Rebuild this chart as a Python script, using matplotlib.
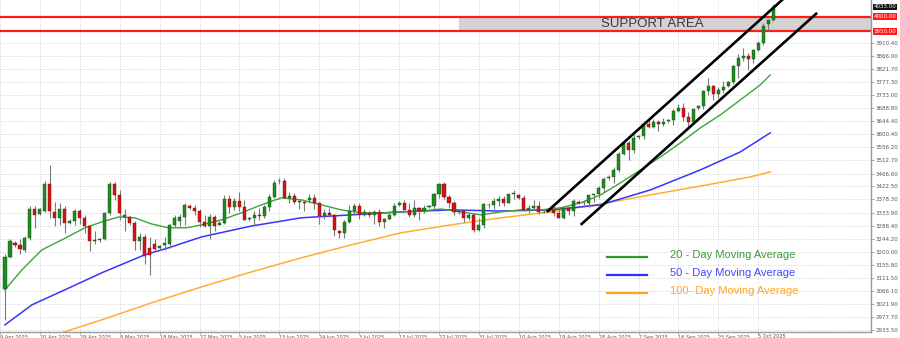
import matplotlib
matplotlib.use("Agg")
import matplotlib.pyplot as plt
from matplotlib.patches import Rectangle
from matplotlib.lines import Line2D
import numpy as np

# ---------------- data (daily XAUUSD candles, incl. Sunday bars) ----------------
opens = [3075, 3184, 3232, 3225, 3207, 3247, 3345, 3330, 3340, 3432,
         3335, 3315, 3345, 3300, 3305, 3340, 3315, 3288, 3238, 3242,
         3244, 3332, 3430, 3395, 3320, 3318, 3300, 3236, 3250, 3215,
         3228, 3212, 3222, 3228, 3290, 3305, 3318, 3356, 3350, 3340,
         3302, 3288, 3318, 3292, 3300, 3381, 3353, 3374, 3353, 3312,
         3316, 3325, 3322, 3354, 3386, 3440, 3440, 3385, 3389, 3369,
         3369, 3375, 3385, 3368, 3323, 3333, 3327, 3270, 3265, 3303,
         3338, 3357, 3326, 3334, 3325, 3336, 3301, 3313, 3324, 3360,
         3365, 3343, 3324, 3348, 3339, 3352, 3356, 3397, 3431, 3387,
         3368, 3335, 3338, 3314, 3326, 3275, 3290, 3360, 3358, 3373,
         3381, 3368, 3397, 3392, 3385, 3342, 3348, 3356, 3335, 3338,
         3342, 3332, 3315, 3348, 3339, 3370, 3368, 3365, 3393, 3397,
         3416, 3450, 3455, 3477, 3533, 3572, 3545, 3590, 3594, 3636,
         3626, 3641, 3634, 3645, 3648, 3679, 3690, 3660, 3643, 3688,
         3695, 3746, 3763, 3736, 3749, 3765, 3778, 3833, 3858, 3866,
         3857, 3887, 3912, 3975, 3990]
highs = [3192, 3245, 3238, 3245, 3255, 3357, 3357, 3350, 3440, 3496,
         3370, 3367, 3355, 3312, 3345, 3345, 3325, 3290, 3270, 3248,
         3335, 3437, 3438, 3410, 3345, 3322, 3305, 3265, 3262, 3250,
         3245, 3225, 3250, 3295, 3325, 3330, 3365, 3362, 3358, 3345,
         3325, 3330, 3325, 3305, 3392, 3392, 3385, 3403, 3375, 3320,
         3340, 3349, 3360, 3398, 3446, 3451, 3452, 3403, 3399, 3375,
         3373, 3397, 3398, 3369, 3347, 3350, 3329, 3275, 3308, 3358,
         3365, 3366, 3345, 3340, 3343, 3345, 3317, 3331, 3368, 3372,
         3375, 3366, 3377, 3352, 3361, 3360, 3402, 3433, 3439, 3394,
         3373, 3342, 3345, 3334, 3334, 3315, 3365, 3365, 3385, 3390,
         3391, 3398, 3409, 3398, 3392, 3358, 3375, 3374, 3345, 3345,
         3358, 3345, 3350, 3351, 3379, 3375, 3376, 3394, 3398, 3423,
         3454, 3462, 3490, 3540, 3578, 3578, 3600, 3598, 3646, 3655,
         3652, 3650, 3655, 3652, 3685, 3703, 3707, 3675, 3687, 3700,
         3749, 3791, 3768, 3761, 3782, 3782, 3835, 3872, 3895, 3875,
         3889, 3918, 3977, 3992, 4042]
lows = [2970, 3180, 3218, 3193, 3200, 3240, 3283, 3326, 3335, 3315,
        3287, 3290, 3265, 3295, 3290, 3295, 3265, 3202, 3228, 3235,
        3240, 3325, 3375, 3310, 3270, 3290, 3207, 3208, 3160, 3121,
        3205, 3208, 3205, 3215, 3285, 3287, 3290, 3345, 3325, 3285,
        3285, 3245, 3271, 3290, 3296, 3333, 3343, 3338, 3307, 3305,
        3293, 3310, 3316, 3338, 3383, 3430, 3382, 3366, 3362, 3346,
        3340, 3368, 3347, 3295, 3312, 3320, 3255, 3248, 3247, 3297,
        3328, 3311, 3322, 3320, 3296, 3287, 3283, 3310, 3322, 3355,
        3341, 3320, 3320, 3310, 3332, 3348, 3345, 3383, 3381, 3351,
        3325, 3330, 3301, 3308, 3268, 3270, 3281, 3350, 3347, 3356,
        3357, 3367, 3380, 3380, 3340, 3331, 3342, 3330, 3331, 3335,
        3323, 3314, 3311, 3325, 3321, 3362, 3352, 3352, 3370, 3385,
        3405, 3446, 3436, 3471, 3528, 3511, 3536, 3585, 3585, 3620,
        3620, 3612, 3628, 3640, 3632, 3675, 3645, 3628, 3640, 3684,
        3685, 3734, 3717, 3722, 3742, 3762, 3770, 3793, 3850, 3820,
        3843, 3884, 3905, 3955, 3985]
closes = [3184, 3238, 3224, 3211, 3248, 3345, 3327, 3345, 3430, 3338,
          3315, 3345, 3300, 3305, 3340, 3315, 3288, 3238, 3240, 3244,
          3332, 3430, 3395, 3332, 3325, 3300, 3236, 3250, 3185, 3190,
          3210, 3220, 3232, 3290, 3315, 3318, 3358, 3350, 3340, 3302,
          3288, 3318, 3289, 3300, 3381, 3353, 3374, 3353, 3310, 3316,
          3325, 3322, 3354, 3386, 3433, 3440, 3385, 3389, 3369, 3372,
          3368, 3385, 3368, 3323, 3333, 3327, 3274, 3265, 3303, 3338,
          3357, 3326, 3336, 3325, 3336, 3301, 3313, 3324, 3355, 3365,
          3343, 3324, 3348, 3339, 3350, 3356, 3397, 3431, 3387, 3368,
          3337, 3338, 3314, 3326, 3275, 3290, 3363, 3358, 3373, 3381,
          3368, 3397, 3398, 3385, 3342, 3348, 3356, 3335, 3336, 3342,
          3332, 3315, 3348, 3339, 3372, 3368, 3365, 3393, 3397, 3416,
          3448, 3455, 3477, 3533, 3572, 3545, 3586, 3594, 3636, 3626,
          3641, 3634, 3643, 3648, 3679, 3690, 3660, 3643, 3685, 3695,
          3746, 3763, 3736, 3749, 3760, 3778, 3833, 3858, 3866, 3857,
          3887, 3912, 3970, 3990, 4033]

# moving averages (bar index, value)
ma20_idx = [0, 3.4, 7.4, 11.4, 16, 19.4, 22.8, 26, 29.4, 32.8, 36.4, 39.4,
            43.4, 47.4, 51.4, 55.4, 59.4, 63.4, 67.4, 71.4, 75.4, 79.4, 83.4,
            87.4, 91.4, 95.4, 99.4, 103.4, 107.4, 111.4, 115.4, 119.4, 123.4,
            127.4, 131.4, 135.4, 139.4, 143.4, 147.4, 151.4, 153.4]
ma20_val = [3071, 3139, 3207, 3241, 3282, 3302, 3319, 3316, 3295, 3282, 3282,
            3292, 3309, 3333, 3360, 3384, 3377, 3360, 3343, 3333, 3333, 3336,
            3339, 3346, 3336, 3326, 3336, 3343, 3343, 3350, 3367, 3394, 3435,
            3479, 3523, 3571, 3622, 3666, 3717, 3768, 3802]
ma50_idx = [0, 5.4, 12, 19.4, 28, 32.8, 39.4, 49.4, 59.4, 69.4, 79.4, 89.4,
            99.4, 109.4, 119.4, 129.4, 139.4, 147.4, 153.4]
ma50_val = [2952, 3020, 3071, 3129, 3190, 3214, 3251, 3288, 3316, 3326, 3336,
            3343, 3339, 3343, 3360, 3411, 3479, 3540, 3605]
ma100_idx = [11.4, 19.4, 29.4, 39.4, 49.4, 59.4, 69.4, 79.4, 89.4, 99.4,
             109.4, 119.4, 129.4, 139.4, 149.4, 153.4]
ma100_val = [2925, 2969, 3027, 3081, 3132, 3180, 3224, 3265, 3292, 3316, 3336,
             3363, 3394, 3424, 3455, 3472]

# date labels (every 8 bars, first one at bar -1)
date_labels = ["9 Apr 2025", "20 Apr 2025", "29 Apr 2025", "8 May 2025",
               "18 May 2025", "27 May 2025", "5 Jun 2025", "15 Jun 2025",
               "24 Jun 2025", "3 Jul 2025", "13 Jul 2025", "22 Jul 2025",
               "31 Jul 2025", "10 Aug 2025", "19 Aug 2025", "28 Aug 2025",
               "7 Sep 2025", "16 Sep 2025", "25 Sep 2025", "5 Oct 2025"]
price_labels = ["2933.50", "2977.70", "3021.90", "3066.10", "3111.50",
                "3155.80", "3200.00", "3244.20", "3288.40", "3333.90",
                "3378.30", "3422.50", "3466.60", "3512.70", "3556.20",
                "3600.40", "3644.40", "3688.80", "3733.00", "3777.30",
                "3821.70", "3866.00", "3910.40"]

support_levels = [3950, 4000]
support_start_idx = 91
upper_channel_idx = [108.6, 156.5]
upper_channel_val = [3336, 4068]
lower_channel_idx = [115.4, 162.8]
lower_channel_val = [3292, 4013]

legend_names = ["20 - Day Moving Average", "50 - Day Moving Average",
                "100- Day Moving Average"]

# ---------------- figure ----------------
W, H = 900, 338
fig = plt.figure(figsize=(9, 3.38), dpi=100)
fig.patch.set_facecolor("white")
ax = fig.add_axes([0, 6 / H, 871 / W, 332 / H])
ax.set_facecolor("white")

o = np.array(opens, float)
h = np.array(highs, float)
l = np.array(lows, float)
c = np.array(closes, float)
idx = np.arange(len(o))

XMIN, XMAX = -0.6, 173.6
YMIN, YMAX = 2927.6, 4056.8
ax.set_xlim(XMIN, XMAX)
ax.set_ylim(YMIN, YMAX)

# grid
label_idx = [-1 + 8 * k for k in range(len(date_labels))]
tick_vals = [float(s) for s in price_labels]
for xi in label_idx:
    ax.axvline(xi, color="#d6d6d6", lw=0.6, ls=(0, (1.5, 1.5)), zorder=0)
for yv in tick_vals:
    ax.axhline(yv, color="#d6d6d6", lw=0.6, ls=(0, (1.5, 1.5)), zorder=0)

# support area
ax.add_patch(Rectangle((support_start_idx, support_levels[0]),
                       XMAX - support_start_idx,
                       support_levels[1] - support_levels[0],
                       facecolor="#d3d3d3", edgecolor="none", zorder=1))
for lv in support_levels:
    ax.axhline(lv, color="#ff1a1a", lw=1.6, zorder=2)
ax.text(129.8, np.mean(support_levels), "SUPPORT AREA", ha="center",
        va="center", fontsize=9.5, color="#3a3a3a",
        family="Liberation Sans", zorder=3)

# moving averages
ax.plot(ma100_idx, ma100_val, color="#ffad33", lw=1.1, zorder=3)
ax.plot(ma50_idx, ma50_val, color="#3535ff", lw=1.1, zorder=3)
ax.plot(ma20_idx, ma20_val, color="#3da33d", lw=1.0, zorder=3)

# candles
up = c >= o
ax.vlines(idx, l, h, color="#7a7a7a", lw=0.8, zorder=4)
body_bottom = np.minimum(o, c)
body_h = np.maximum(np.abs(c - o), 2.0)
ax.bar(idx[up], body_h[up], bottom=body_bottom[up], width=0.62,
       color="#1f8a1f", edgecolor="#124d12", linewidth=0.3, zorder=5)
ax.bar(idx[~up], body_h[~up], bottom=body_bottom[~up], width=0.62,
       color="#d41414", edgecolor="#701010", linewidth=0.3, zorder=5)

# channel lines
ax.plot(upper_channel_idx, upper_channel_val, color="black", lw=1.9,
        zorder=6, solid_capstyle="butt")
ax.plot(lower_channel_idx, lower_channel_val, color="black", lw=1.9,
        zorder=6, solid_capstyle="butt")

# axes styling
for s in ["top", "left"]:
    ax.spines[s].set_visible(False)
for s in ["right", "bottom"]:
    ax.spines[s].set_color("#9a9a9a")
    ax.spines[s].set_linewidth(1.0)

ax.yaxis.tick_right()
ax.set_yticks(tick_vals)
ax.set_yticklabels(price_labels)
ax.tick_params(axis="y", length=2, width=0.6, color="#9a9a9a", pad=1.5,
               labelsize=4, labelcolor="#555555")
ax.set_xticks(label_idx)
ax.set_xticklabels(date_labels)
ax.tick_params(axis="x", length=1.5, width=0.6, color="#9a9a9a", pad=0.3,
               labelsize=3.6, labelcolor="#555555")
for t in ax.get_xticklabels():
    t.set_ha("left")

# price boxes on the right axis
for lv in support_levels:
    ax.annotate(f"{lv:.2f}", xy=(1.0, lv), xycoords=("axes fraction", "data"),
                xytext=(2, 0), textcoords="offset points", ha="left",
                va="center", fontsize=4, color="white",
                bbox=dict(boxstyle="square,pad=0.15", fc="#ff1a1a", ec="none"),
                annotation_clip=False, zorder=10)
ax.annotate(f"{closes[-1]:.2f}", xy=(1.0, closes[-1]),
            xycoords=("axes fraction", "data"), xytext=(2, 0),
            textcoords="offset points", ha="left", va="center", fontsize=4,
            color="white",
            bbox=dict(boxstyle="square,pad=0.15", fc="#111111", ec="none"),
            annotation_clip=False, zorder=10)

# legend
leg_colors = ["#2e9a2e", "#2f2fff", "#ffa31a"]
txt_colors = ["#3c9a3c", "#4646ff", "#ffa526"]
leg_y = [257, 275, 293]
for name, lc, tc, py in zip(legend_names, leg_colors, txt_colors, leg_y):
    fig.add_artist(Line2D([607 / W, 647 / W], [1 - py / H, 1 - py / H],
                          color=lc, lw=1.6, transform=fig.transFigure))
    fig.text(670 / W, 1 - (py - 1.5) / H, name, color=tc, fontsize=8,
             family="Liberation Sans", ha="left", va="center")

fig.savefig("out.png", dpi=100, facecolor="white")
